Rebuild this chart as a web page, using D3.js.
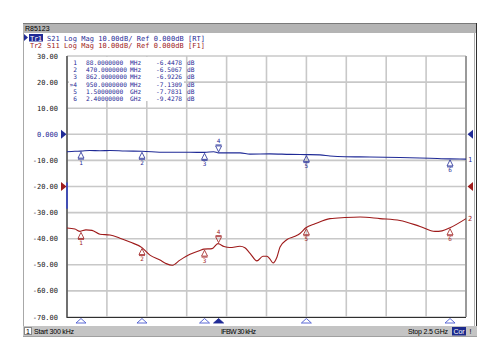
<!DOCTYPE html>
<html>
<head>
<meta charset="utf-8">
<script src="https://cdn.jsdelivr.net/npm/d3@7"></script>
<style>
  body { margin: 0; background: #ffffff; }
  text { font-family: "DejaVu Sans Mono", monospace; }
  .status { font-family: "Liberation Sans", Arial, sans-serif; }
</style>
</head>
<body>
<div class="chart"></div>
<script>
var svgWidth = 500;
var svgHeight = 360;

// Trace data: frequency (MHz) and magnitude (dB)
var s21Freq = [0.3, 50, 88, 144, 207, 270, 363, 470, 614, 770, 862, 920, 950, 1085, 1147, 1272, 1397, 1500, 1585, 1648, 1742, 1898, 2086, 2274, 2400, 2500];
var s21Db = [-6.7, -6.5, -6.45, -6.2, -6.3, -6.2, -6.4, -6.51, -6.9, -6.9, -6.92, -6.7, -7.13, -7.1, -7.6, -7.5, -7.7, -7.78, -7.9, -8.3, -8.6, -8.7, -8.9, -9.2, -9.43, -9.5];

var s11Freq = [0.3, 50, 82, 119, 157, 207, 270, 332, 395, 470, 520, 583, 620, 658, 708, 771, 833, 858, 909, 946, 984, 1021, 1084, 1115, 1147, 1190, 1228, 1253, 1272, 1291, 1316, 1335, 1379, 1429, 1460, 1497, 1554, 1648, 1742, 1836, 1961, 2086, 2212, 2306, 2350, 2400, 2500];
var s11Db = [-35.9, -36.3, -37.2, -36.6, -36.8, -38.3, -38.6, -39.8, -41.3, -43.4, -46.3, -48.2, -49.5, -50.2, -48.2, -46, -44.5, -44, -43.8, -41.9, -43, -43.4, -42.9, -43.5, -45.6, -48.5, -46.7, -46.7, -47.8, -49.3, -47, -43.2, -40.3, -39.1, -38, -35.8, -34.3, -32.3, -31.9, -31.7, -32.3, -33, -35.3, -37.2, -37, -35.8, -32.3];

// Markers
var markerNum = ["1", "2", "3", "4", "5", "6"];
var markerFreq = [88, 470, 862, 950, 1500, 2400];
var markerFreqText = ["88.0000000", "470.0000000", "862.0000000", "950.0000000", "1.50000000", "2.40000000"];
var markerUnit = ["MHz", "MHz", "MHz", "MHz", "GHz", "GHz"];
var markerS21 = [-6.4478, -6.5067, -6.9226, -7.1309, -7.7831, -9.4278];
var markerS11 = [-37.2, -43.4, -44.0, -41.9, -35.8, -35.8];
var activeMarker = 3;

var yTicks = [30, 20, 10, 0, -10, -20, -30, -40, -50, -60, -70];
var yTickLabels = ["30.00", "20.00", "10.00", "0.000", "-10.00", "-20.00", "-30.00", "-40.00", "-50.00", "-60.00", "-70.00"];
var xGrid = [0.3, 250.27, 500.24, 750.21, 1000.18, 1250.15, 1500.12, 1750.09, 2000.06, 2250.03, 2500];

var blue = "#1f2a96";
var red = "#9e1a1a";

var plot = { left: 67, right: 466, top: 56, bottom: 317 };

var svg = d3.select(".chart")
  .append("svg")
  .attr("width", svgWidth)
  .attr("height", svgHeight);

// Step 1: instrument frame
// ==============================
svg.append("rect")
  .attr("x", 23.5).attr("y", 23.5)
  .attr("width", 453).attr("height", 313)
  .attr("fill", "#ffffff")
  .attr("stroke", "#a8a8a8");

svg.append("rect")
  .attr("x", 23).attr("y", 23)
  .attr("width", 454).attr("height", 10)
  .attr("fill", "#b4b4b4");
svg.append("line")
  .attr("x1", 23).attr("x2", 477).attr("y1", 23.5).attr("y2", 23.5)
  .attr("stroke", "#7a7a7a");
svg.append("text")
  .attr("x", 25).attr("y", 31)
  .attr("class", "status")
  .style("font-size", "7px")
  .attr("fill", "#000")
  .text("R85123");

// right edge double line
svg.append("line")
  .attr("x1", 474.5).attr("x2", 474.5).attr("y1", 33).attr("y2", 336)
  .attr("stroke", "#b0b0b0");
svg.append("line")
  .attr("x1", 476.5).attr("x2", 476.5).attr("y1", 23).attr("y2", 336)
  .attr("stroke", "#303030");

// Step 2: header lines
// ==============================
svg.append("path")
  .attr("d", "M24,34 L28,37.5 L24,41 Z")
  .attr("fill", blue);
svg.append("rect")
  .attr("x", 29).attr("y", 34)
  .attr("width", 14).attr("height", 7.5)
  .attr("fill", blue);
svg.append("text")
  .attr("x", 30).attr("y", 40.5)
  .style("font-size", "7px")
  .attr("fill", "#fff")
  .attr("textLength", 12)
  .text("Tr1");
svg.append("text")
  .attr("x", 47).attr("y", 40.5)
  .style("font-size", "7px")
  .attr("fill", blue)
  .attr("textLength", 158)
  .text("S21 Log Mag 10.00dB/ Ref 0.000dB [RT]");
svg.append("text")
  .attr("x", 30).attr("y", 47.5)
  .style("font-size", "7px")
  .attr("fill", red)
  .attr("textLength", 12)
  .text("Tr2");
svg.append("text")
  .attr("x", 47).attr("y", 47.5)
  .style("font-size", "7px")
  .attr("fill", red)
  .attr("textLength", 158)
  .text("S11 Log Mag 10.00dB/ Ref 0.000dB [F1]");

// Step 3: scales
// ==============================
var xScale = d3.scaleLinear()
  .domain([0.3, 2500])
  .range([plot.left, plot.right]);

var yScale = d3.scaleLinear()
  .domain([30, -70])
  .range([plot.top, plot.bottom]);

// Step 4: grid
// ==============================
var gridGroup = svg.append("g");

gridGroup.selectAll(".hgrid")
  .data(yTicks)
  .enter()
  .append("line")
  .attr("x1", plot.left).attr("x2", plot.right)
  .attr("y1", d => yScale(d)).attr("y2", d => yScale(d))
  .attr("stroke", "#c8c8c8")
  .attr("stroke-width", 1.6);

gridGroup.selectAll(".vgrid")
  .data(xGrid)
  .enter()
  .append("line")
  .attr("x1", d => xScale(d)).attr("x2", d => xScale(d))
  .attr("y1", plot.top).attr("y2", plot.bottom)
  .attr("stroke", "#c8c8c8")
  .attr("stroke-width", 1.6);

// plot border: gray right, dark left/bottom
svg.append("line")
  .attr("x1", plot.right).attr("x2", plot.right)
  .attr("y1", plot.top).attr("y2", plot.bottom)
  .attr("stroke", "#9a9a9a").attr("stroke-width", 2);
svg.append("line")
  .attr("x1", plot.left).attr("x2", plot.left)
  .attr("y1", plot.top).attr("y2", plot.bottom + 1)
  .attr("stroke", "#303030").attr("stroke-width", 1.2);
svg.append("line")
  .attr("x1", plot.left).attr("x2", plot.right)
  .attr("y1", plot.bottom + 0.5).attr("y2", plot.bottom + 0.5)
  .attr("stroke", "#303030").attr("stroke-width", 1.2);

// y tick labels
svg.selectAll(".ylab")
  .data(yTicks)
  .enter()
  .append("text")
  .attr("x", 58)
  .attr("y", d => yScale(d) + 2.5)
  .attr("text-anchor", "end")
  .style("font-size", "7px")
  .attr("fill", d => d === 0 ? blue : "#202020")
  .text((d, i) => yTickLabels[i]);

// Step 5: marker table
// ==============================
svg.append("rect")
  .attr("x", 69).attr("y", 57)
  .attr("width", 115).attr("height", 44)
  .attr("fill", "#ffffff");

var tableGroup = svg.append("g")
  .style("font-size", "6.2px")
  .attr("fill", blue);

markerNum.forEach(function (n, i) {
  var yy = 65 + i * 7.2;
  tableGroup.append("text")
    .attr("x", 77).attr("y", yy)
    .attr("text-anchor", "end")
    .text(i === activeMarker ? "\u00bb" + n : n);
  tableGroup.append("text")
    .attr("x", 86).attr("y", yy)
    .text(markerFreqText[i]);
  tableGroup.append("text")
    .attr("x", 130).attr("y", yy)
    .text(markerUnit[i]);
  tableGroup.append("text")
    .attr("x", 156).attr("y", yy)
    .text(markerS21[i].toFixed(4));
  tableGroup.append("text")
    .attr("x", 187).attr("y", yy)
    .text("dB");
});

// Step 6: traces
// ==============================
var line = d3.line()
  .x(d => xScale(d[0]))
  .y(d => yScale(d[1]))
  .curve(d3.curveMonotoneX);

svg.append("path")
  .datum(d3.zip(s11Freq, s11Db))
  .attr("d", line)
  .attr("fill", "none")
  .attr("stroke", red)
  .attr("stroke-width", 1.1);

svg.append("path")
  .datum(d3.zip(s21Freq, s21Db))
  .attr("d", line)
  .attr("fill", "none")
  .attr("stroke", blue)
  .attr("stroke-width", 1.1);

// blue segment on left edge
svg.append("line")
  .attr("x1", plot.left).attr("x2", plot.left)
  .attr("y1", yScale(-18.5)).attr("y2", yScale(-28.5))
  .attr("stroke", "#3040d0").attr("stroke-width", 1.4);

// Step 7: trace markers
// ==============================
function drawMarkers(vals, color) {
  var g = svg.append("g");
  markerFreq.forEach(function (f, i) {
    var mx = xScale(f);
    var my = yScale(vals[i]);
    if (i === activeMarker) {
      g.append("path")
        .attr("d", `M${mx},${my - 1} L${mx - 3},${my - 7} L${mx + 3},${my - 7} Z M${mx - 3},${my - 8} L${mx + 3},${my - 8}`)
        .attr("fill", "none").attr("stroke", color).attr("stroke-width", 0.8);
      g.append("text")
        .attr("x", mx).attr("y", my - 9.5)
        .attr("text-anchor", "middle")
        .style("font-size", "6px")
        .attr("fill", color)
        .text(markerNum[i]);
    } else {
      g.append("path")
        .attr("d", `M${mx},${my + 1} L${mx - 3},${my + 7} L${mx + 3},${my + 7} Z M${mx - 3},${my + 8} L${mx + 3},${my + 8}`)
        .attr("fill", "none").attr("stroke", color).attr("stroke-width", 0.8);
      g.append("text")
        .attr("x", mx).attr("y", my + 13.5)
        .attr("text-anchor", "middle")
        .style("font-size", "6px")
        .attr("fill", color)
        .text(markerNum[i]);
    }
  });
}
drawMarkers(markerS11, red);
drawMarkers(markerS21, blue);

// trace end labels
svg.append("text")
  .attr("x", 468).attr("y", yScale(s21Db[s21Db.length - 1]) + 2.5)
  .style("font-size", "7px").attr("fill", blue)
  .text("1");
svg.append("text")
  .attr("x", 468).attr("y", yScale(s11Db[s11Db.length - 1]) + 2.5)
  .style("font-size", "7px").attr("fill", red)
  .text("2");

// reference level arrows
[[0, blue], [-20, red]].forEach(function (r) {
  var ry = yScale(r[0]);
  svg.append("path")
    .attr("d", `M${plot.left - 6},${ry - 4.5} L${plot.left - 0.5},${ry} L${plot.left - 6},${ry + 4.5} Z`)
    .attr("fill", r[1]);
  svg.append("path")
    .attr("d", `M${plot.right + 7},${ry - 4.5} L${plot.right + 1.5},${ry} L${plot.right + 7},${ry + 4.5} Z`)
    .attr("fill", r[1]);
});

// stimulus markers below the axis
svg.selectAll(".stim")
  .data(markerFreq)
  .enter()
  .append("path")
  .attr("d", d => `M${xScale(d)},${plot.bottom + 1.5} L${xScale(d) - 5},${plot.bottom + 6} L${xScale(d) + 5},${plot.bottom + 6} Z`)
  .attr("fill", (d, i) => i === activeMarker ? blue : "#ffffff")
  .attr("stroke", (d, i) => i === activeMarker ? blue : "#4a5ad0")
  .attr("stroke-width", 0.9);

// Step 8: status bar
// ==============================
svg.append("rect")
  .attr("x", 23).attr("y", 326)
  .attr("width", 454).attr("height", 10)
  .attr("fill", "#c4c4c4");
svg.append("rect")
  .attr("x", 24.5).attr("y", 327.5)
  .attr("width", 7).attr("height", 7)
  .attr("fill", "#ffffff").attr("stroke", "#888");
svg.append("text")
  .attr("class", "status")
  .attr("x", 26).attr("y", 334)
  .style("font-size", "7px").attr("fill", "#000")
  .text("1");
svg.append("text")
  .attr("class", "status")
  .attr("x", 34).attr("y", 334)
  .style("font-size", "7px").attr("fill", "#000")
  .attr("textLength", 40)
  .text("Start 300 kHz");
svg.append("text")
  .attr("class", "status")
  .attr("x", 221).attr("y", 334)
  .style("font-size", "7px").attr("fill", "#000")
  .attr("textLength", 35)
  .text("IFBW 30 kHz");
svg.append("text")
  .attr("class", "status")
  .attr("x", 408).attr("y", 334)
  .style("font-size", "7px").attr("fill", "#000")
  .attr("textLength", 40)
  .text("Stop 2.5 GHz");
svg.append("rect")
  .attr("x", 452).attr("y", 327)
  .attr("width", 14).attr("height", 8.5)
  .attr("fill", "#1c2a8c");
svg.append("text")
  .attr("class", "status")
  .attr("x", 453.5).attr("y", 334)
  .style("font-size", "7px").attr("fill", "#ffffff")
  .attr("textLength", 11)
  .text("Cor");
svg.append("text")
  .attr("class", "status")
  .attr("x", 469.5).attr("y", 334)
  .style("font-size", "7px").attr("fill", "#000")
  .text("!");
svg.append("line")
  .attr("x1", 23).attr("x2", 477).attr("y1", 336.5).attr("y2", 336.5)
  .attr("stroke", "#a0a0a0");
</script>
</body>
</html>
